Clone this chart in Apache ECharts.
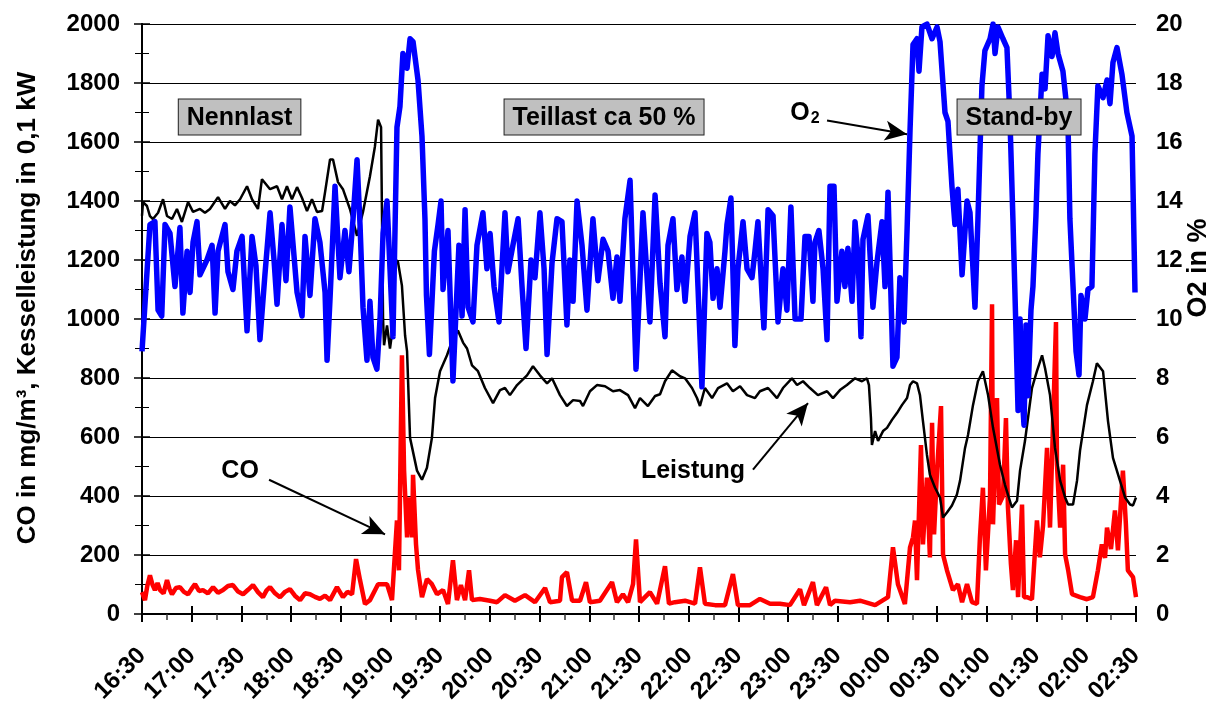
<!DOCTYPE html>
<html><head><meta charset="utf-8">
<script src="https://cdn.jsdelivr.net/npm/echarts@6/dist/echarts.min.js"></script>
<style>html,body{margin:0;padding:0;background:#fff}#c{width:1219px;height:706px}</style>
</head><body><div id="c"></div>
<script>
const FONT = "'Liberation Sans', Arial, sans-serif";
// time in minutes after 16:30
const o2Time = [0,2.8,4.8,7.8,9.7,11.9,13.9,16.9,19.9,22.9,24.7,27.2,29.0,30.8,33.2,35.0,39.2,42.3,44.1,45.9,50.1,51.9,54.9,57.3,60.4,63.4,66.4,68.8,71.2,74.2,77.3,79.7,81.5,84.5,86.9,89.3,93.6,96.6,98.4,101.4,104.4,107.4,110.5,111.7,113.5,116.5,119.5,122.5,124.9,127.4,129.8,131.6,133.4,135.8,137.6,139.4,141.8,143.7,145.5,147.9,149.7,151.5,153.9,155.7,157.5,160.0,161.8,163.6,166.6,169.0,170.8,171.7,173.5,176.5,178.7,180.5,181.7,184.7,187.7,191.3,193.2,195.0,196.8,199.8,202.2,205.8,208.2,210.1,212.5,215.5,219.1,220.9,223.9,227.0,229.4,231.8,234.8,237.2,240.2,242.7,244.5,247.5,250.5,253.5,256.5,258.3,260.2,262.6,265.6,268.6,272.2,275.2,278.3,281.3,284.3,286.7,288.5,291.5,294.6,298.2,302.4,306.6,309.7,312.7,315.7,317.5,320.5,322.9,325.9,327.8,330.8,333.8,335.6,338.0,341.0,342.8,344.7,347.1,348.9,351.9,353.1,355.5,357.9,359.7,362.8,365.2,368.2,370.0,371.8,375.4,377.9,380.9,383.9,386.9,389.3,391.7,394.2,397.8,400.2,402.6,405.0,406.2,408.6,411.1,413.5,415.3,417.7,419.5,422.5,424.3,426.1,428.6,430.4,432.2,434.0,435.2,438.2,441.2,443.6,446.7,448.5,450.3,453.3,455.7,457.5,460.0,461.8,463.6,465.4,467.8,469.0,470.8,473.8,476.9,479.9,481.7,484.7,486.5,488.9,490.7,492.5,495.0,498.0,499.8,502.8,504.6,507.0,508.8,511.9,513.7,514.9,516.7,519.7,522.1,523.9,525.7,527.6,528.8,530.0,531.2,532.4,533.6,534.8,536.6,537.8,539.6,540.8,543.3,545.1,546.9,549.3,551.1,552.9,555.9,558.9,560.1,562.0,563.8,565.6,566.8,569.2,571.0,573.4,575.2,577.0,580.1,582.5,584.3,586.1,588.5,591.5,594.5,597.6,599.4];
const o2Val = [8.9,11.4,13.2,13.3,10.3,10.1,13.2,12.9,11.1,13.1,10.2,12.3,10.9,12.6,13.3,11.5,12.0,12.5,10.2,12.3,13.2,11.6,11.0,12.3,12.8,9.6,12.8,11.8,9.3,11.5,13.6,12.0,10.5,13.2,11.3,13.8,10.9,10.1,12.8,10.8,13.4,12.6,10.9,8.6,10.7,14.5,11.4,13.0,11.6,13.4,15.4,13.2,10.4,8.6,10.6,8.7,8.3,10.0,12.9,14.0,11.7,9.4,16.5,17.2,19.0,18.5,19.5,19.4,18.1,16.2,13.4,10.8,8.8,12.3,13.2,14.0,11.0,13.0,7.9,12.5,10.1,13.7,10.4,9.9,12.5,13.6,11.7,12.9,11.1,9.9,13.6,11.6,12.5,13.4,11.1,9.0,12.0,11.4,13.6,11.7,8.8,11.9,13.4,13.3,9.8,12.0,10.6,14.0,12.5,10.3,13.4,11.3,12.7,12.3,10.7,12.1,10.6,13.4,14.7,8.3,13.6,9.9,14.2,11.2,9.4,12.5,13.4,11.0,12.1,10.6,12.8,13.6,11.1,7.7,12.9,12.6,10.7,11.7,10.4,12.3,13.2,14.1,9.1,11.7,13.3,11.7,11.4,12.3,13.3,9.7,13.7,13.5,9.9,11.7,10.3,13.8,10.0,10.0,12.8,12.8,10.6,12.6,13.0,11.7,9.3,14.5,14.5,10.6,12.3,11.1,12.4,10.6,13.3,12.1,9.4,12.7,13.5,10.4,11.9,13.3,11.1,14.3,8.4,8.7,11.4,9.9,13.0,16.4,19.3,19.5,18.4,19.9,20.0,19.5,19.9,19.4,17.0,16.7,14.5,13.2,14.4,11.5,14.0,13.6,10.4,13.4,17.9,19.1,19.5,20.0,19.0,19.9,19.5,19.2,16.8,13.4,9.5,6.9,10.0,7.5,6.4,9.8,7.4,10.3,11.1,13.5,15.6,18.3,17.8,19.6,18.9,19.7,19.0,18.4,16.8,13.4,11.1,8.9,8.1,10.8,10.0,11.0,11.1,15.6,17.9,17.5,18.1,17.3,18.7,19.2,18.3,17.0,16.2,10.9];

const powerTime = [0,0.6,3.0,4.8,6.6,9.7,12.7,15.1,18.1,21.1,24.1,27.8,30.8,35.0,38.0,41.0,45.9,50.1,53.1,56.1,59.2,63.4,66.4,70.0,72.4,77.3,81.5,84.5,87.5,90.5,93.6,96.6,99.6,102.6,105.6,108.7,110.5,113.5,115.3,118.3,121.3,125.5,129.8,133.4,137.6,140.6,142.5,144.3,145.5,146.1,147.9,149.7,150.9,152.7,154.5,156.9,158.8,160.0,161.8,166.0,169.0,172.0,175.0,176.9,179.9,184.1,187.7,190.7,193.8,196.2,199.2,202.8,207.0,211.9,216.1,219.1,222.1,226.4,232.4,236.0,240.2,244.5,247.5,252.3,256.5,260.2,264.4,266.2,270.4,274.6,279.5,284.3,288.5,293.4,297.6,300.6,305.4,309.7,312.7,315.7,319.9,324.7,327.8,332.0,335.0,336.8,339.8,344.1,347.7,353.1,356.7,361.0,365.2,370.0,373.0,377.9,383.3,386.9,392.3,395.4,399.0,403.2,408.0,413.5,417.1,421.3,425.5,430.4,434.6,437.6,438.8,440.0,440.6,442.5,444.3,447.3,449.7,452.7,455.7,458.7,461.8,463.6,465.4,467.8,469.6,471.4,473.8,475.6,478.7,481.7,483.5,485.9,488.9,491.9,493.8,496.8,498.6,501.6,504.6,507.6,510.7,513.7,517.9,520.9,525.1,528.2,530.0,533.0,537.2,540.2,543.3,545.1,548.1,551.1,554.2,557.2,559.0,562.0,564.4,566.2,570.4,574.0,576.4,580.1,583.1,586.1,590.3,593.4,596.4,598.2,600.0];
const powerVal = [1350,1396,1383,1349,1339,1360,1406,1349,1339,1373,1329,1396,1363,1373,1360,1373,1413,1373,1400,1385,1406,1450,1406,1373,1474,1440,1450,1406,1450,1406,1447,1410,1366,1406,1363,1366,1430,1541,1541,1464,1440,1373,1282,1363,1484,1585,1676,1650,1002,911,978,900,950,1204,1194,1113,944,890,597,486,455,496,597,732,823,877,934,961,920,900,843,823,766,715,759,766,742,776,809,840,809,782,799,742,705,725,722,705,755,776,772,755,759,742,698,732,705,739,745,789,826,806,799,766,732,705,766,732,766,782,755,772,742,732,755,766,732,766,799,776,789,766,742,755,732,759,776,799,789,799,776,664,573,620,587,620,631,658,681,708,732,776,789,782,742,654,540,472,428,395,327,344,368,405,452,563,607,708,789,823,742,631,506,438,361,384,486,587,766,823,877,833,742,563,452,395,371,371,452,553,708,789,850,823,654,529,452,395,371,368,395];

const coTime = [0,1.8,3.2,4.8,6.3,7.8,9.4,10.9,13.0,15.1,16.6,18.1,20.5,22.9,25.3,27.8,29.9,32.0,34.4,36.8,39.8,42.9,45.9,48.9,51.9,54.9,58.0,61.0,64.0,67.0,70.0,73.0,75.2,77.3,80.3,83.3,86.3,89.3,92.3,95.4,98.4,101.4,104.4,107.4,110.5,113.5,117.7,121.3,124.0,126.8,129.2,131.6,134.6,137.6,142.5,147.9,150.9,153.9,155.1,156.9,158.2,160.0,161.2,163.0,163.6,165.4,166.6,169.0,172.0,175.0,178.1,181.7,184.7,187.7,190.1,192.5,195.0,197.4,199.2,204.0,210.1,214.3,219.1,225.1,231.2,237.2,243.3,246.3,252.3,253.5,256.5,259.6,264.4,268.0,270.4,276.4,283.7,286.7,290.3,293.4,296.4,298.2,300.6,306.6,310.9,315.7,318.1,321.7,327.8,333.8,336.8,339.8,345.9,351.9,356.7,359.7,367.0,373.0,379.1,385.1,391.1,397.2,399.6,405.0,407.4,412.9,415.3,418.3,427.4,433.4,442.5,450.3,453.3,456.3,460.5,463.6,465.4,466.6,467.8,470.2,471.4,473.8,475.6,476.9,478.1,479.9,482.3,483.5,485.9,489.5,492.5,495.0,498.0,501.0,504.0,505.8,507.6,509.4,511.9,513.1,513.7,516.1,517.3,519.7,521.5,522.7,524.5,525.7,527.6,528.8,531.2,532.4,534.2,537.2,540.2,542.0,543.9,546.3,548.1,551.7,552.3,554.2,556.0,557.2,559.0,561.4,566.2,570.4,574.0,577.0,579.4,581.3,582.5,584.9,587.3,589.1,592.1,593.9,595.1,598.2,600.0];
const coVal = [74,47,95,131,100,81,105,81,70,115,85,67,88,91,75,67,85,101,78,81,70,91,72,81,95,98,76,67,82,98,74,57,80,91,70,57,75,84,62,47,70,67,58,51,62,47,91,57,75,67,186,115,34,47,101,101,47,317,148,877,486,260,395,260,472,236,150,57,118,101,67,81,34,182,47,98,47,148,47,51,45,40,64,45,64,40,88,40,45,125,142,45,45,108,40,45,108,40,67,40,101,253,40,74,35,162,35,40,45,35,158,35,30,30,135,30,30,51,35,35,30,84,30,108,30,91,30,45,40,45,30,57,226,101,34,226,260,317,115,573,236,462,192,648,270,486,705,202,148,81,101,40,101,40,34,260,428,148,400,1050,304,732,371,400,664,361,169,81,250,57,371,57,57,50,317,192,300,563,293,990,506,293,506,202,150,67,57,50,57,148,236,190,293,220,351,216,486,304,148,125,57];

// annotations (time in minutes after 16:30, level on left axis)
const boxTexts = ['Nennlast', 'Teillast ca 50 %', 'Stand-by'];
const boxTimes = [58.9, 278.9, 529.4];
const boxLevel = 1685;

const pairs = (t, v) => t.map((x, i) => [x, v[i]]);
const fmtTime = v => {
  const m = (16 * 60 + 30 + Math.round(v)) % 1440;
  return String(Math.floor(m / 60)).padStart(2, '0') + ':' + String(m % 60).padStart(2, '0');
};

const chart = echarts.init(document.getElementById('c'), null, {renderer: 'canvas'});
const tickFont = {color: '#000', fontFamily: FONT, fontWeight: 'bold', fontSize: 24};
const annFont = {color: '#000', fontFamily: FONT, fontWeight: 'bold', fontSize: 25};

const boxPoints = boxTexts.map((txt, i) => ({
  coord: [boxTimes[i], boxLevel],
  label: {formatter: txt}
}));
const textPoints = [
  {coord: [400.2, 1703], label: {formatter: '{o|O}{s|2}', backgroundColor: 'transparent', borderWidth: 0}},
  {coord: [59.2, 489], label: {formatter: 'CO', backgroundColor: 'transparent', borderWidth: 0}},
  {coord: [332.6, 489], label: {formatter: 'Leistung', backgroundColor: 'transparent', borderWidth: 0}}
];

chart.setOption({
  animation: false,
  backgroundColor: '#fff',
  grid: {left: 142, right: 83, top: 24, bottom: 89, containLabel: false},
  xAxis: [{
    type: 'value', min: 0, max: 600, interval: 30,
    axisLine: {show: true, onZero: false, lineStyle: {color: '#000', width: 2}},
    axisTick: {show: true, length: 8, lineStyle: {color: '#000', width: 2}},
    minorTick: {show: true, splitNumber: 2, length: 6, lineStyle: {color: '#333', width: 1.5}},
    splitLine: {show: false},
    axisLabel: Object.assign({rotate: 45, margin: 38, formatter: fmtTime, showMaxLabel: true, showMinLabel: true}, tickFont)
  }, {
    type: 'value', min: 0, max: 600, interval: 30, position: 'bottom',
    axisLine: {show: false},
    axisTick: {show: true, inside: true, length: 8, lineStyle: {color: '#000', width: 2}},
    axisLabel: {show: false},
    splitLine: {show: false}
  }],
  yAxis: [{
    type: 'value', min: 0, max: 2000, interval: 200, position: 'left',
    axisLine: {show: true, lineStyle: {color: '#000', width: 2}},
    axisTick: {show: true, length: 8, lineStyle: {color: '#000', width: 1.5}},
    minorTick: {show: true, splitNumber: 2, length: 7, lineStyle: {color: '#000', width: 1}},
    splitLine: {show: true, lineStyle: {color: '#000', width: 1}},
    axisLabel: Object.assign({margin: 22, formatter: v => String(v)}, tickFont)
  }, {
    type: 'value', min: 0, max: 20, interval: 2, position: 'right',
    axisLine: {show: true, lineStyle: {color: '#000', width: 2}},
    axisTick: {show: true, length: 8, lineStyle: {color: '#000', width: 1.5}},
    minorTick: {show: true, splitNumber: 2, length: 7, lineStyle: {color: '#000', width: 1}},
    splitLine: {show: false},
    axisLabel: Object.assign({margin: 20, formatter: v => String(v)}, tickFont)
  }],
  graphic: [
    {type: 'text', x: 28, y: 308, rotation: Math.PI / 2, z: 10,
     style: {text: 'CO in mg/m³, Kesselleistung in 0,1 kW', fill: '#000', font: "bold 26px 'Liberation Sans', Arial, sans-serif", textAlign: 'center', textVerticalAlign: 'middle'}},
    {type: 'text', x: 1199, y: 268, rotation: Math.PI / 2, z: 10,
     style: {text: 'O2 in %', fill: '#000', font: "bold 27px 'Liberation Sans', Arial, sans-serif", textAlign: 'center', textVerticalAlign: 'middle'}}
  ],
  series: [{
    name: 'CO', type: 'line', xAxisIndex: 0, yAxisIndex: 0,
    data: pairs(coTime, coVal), showSymbol: false, symbol: 'none',
    lineStyle: {color: '#ff0000', width: 4.5}, itemStyle: {color: '#ff0000'}, z: 2
  }, {
    name: 'Leistung', type: 'line', xAxisIndex: 0, yAxisIndex: 0,
    data: pairs(powerTime, powerVal), showSymbol: false, symbol: 'none',
    lineStyle: {color: '#000', width: 2.5}, itemStyle: {color: '#000'}, z: 3,
    markPoint: {
      silent: true, animation: false,
      symbol: 'circle', symbolSize: 1, itemStyle: {color: 'rgba(0,0,0,0)'},
      label: Object.assign({show: true, position: 'inside', backgroundColor: '#c0c0c0', borderColor: '#222', borderWidth: 1, padding: [6, 8, 4, 8],
        rich: {o: {fontFamily: FONT, fontWeight: 'bold', fontSize: 25, color: '#000'}, s: {fontFamily: FONT, fontWeight: 'bold', fontSize: 16, color: '#000', padding: [12, 0, 0, 1]}}}, annFont),
      data: boxPoints.concat(textPoints)
    },
    markLine: {
      silent: true, animation: false,
      symbol: ['none', 'arrow'], symbolSize: [15, 22],
      label: {show: false},
      lineStyle: {color: '#000', width: 2, type: 'solid'},
      emphasis: {disabled: true},
      data: [
        [{coord: [76.7, 455]}, {coord: [146.7, 270]}],
        [{coord: [368.8, 489]}, {coord: [402.0, 715]}],
        [{coord: [413.5, 1673]}, {coord: [461.8, 1626]}]
      ]
    }
  }, {
    name: 'O2', type: 'line', xAxisIndex: 0, yAxisIndex: 1,
    data: pairs(o2Time, o2Val), showSymbol: false, symbol: 'none',
    lineStyle: {color: '#0000ff', width: 5.5, join: 'round'}, itemStyle: {color: '#0000ff'}, z: 4
  }]
});
</script></body></html>
